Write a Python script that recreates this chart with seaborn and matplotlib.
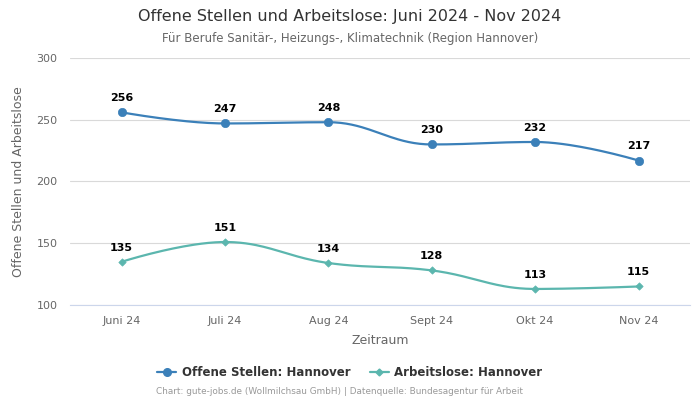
import numpy as np
import pandas as pd
import matplotlib
matplotlib.use("Agg")
import matplotlib.pyplot as plt
from matplotlib.lines import Line2D
import seaborn as sns

months = ["Juni 24", "Juli 24", "Aug 24", "Sept 24", "Okt 24", "Nov 24"]
offene_stellen = [256, 247, 248, 230, 232, 217]
arbeitslose = [135, 151, 134, 128, 113, 115]

blue = "#3b80b9"
teal = "#5bb6ae"


def spline_curve(xs, ys, steps=40):
    # highcharts-like spline with smoothing 1.5
    xs = np.asarray(xs, dtype=float)
    ys = np.asarray(ys, dtype=float)
    n = len(xs)
    left = [(xs[i], ys[i]) for i in range(n)]
    right = [(xs[i], ys[i]) for i in range(n)]
    s = 1.5
    d = s + 1
    for i in range(1, n - 1):
        lx = (s * xs[i] + xs[i - 1]) / d
        ly = (s * ys[i] + ys[i - 1]) / d
        rx = (s * xs[i] + xs[i + 1]) / d
        ry = (s * ys[i] + ys[i + 1]) / d
        corr = (ry - ly) * (rx - xs[i]) / (rx - lx) + ys[i] - ry
        ly += corr
        ry += corr
        if ly > ys[i - 1] and ly > ys[i]:
            ly = max(ys[i - 1], ys[i])
            ry = 2 * ys[i] - ly
        elif ly < ys[i - 1] and ly < ys[i]:
            ly = min(ys[i - 1], ys[i])
            ry = 2 * ys[i] - ly
        if ry > ys[i + 1] and ry > ys[i]:
            ry = max(ys[i + 1], ys[i])
            ly = 2 * ys[i] - ry
        elif ry < ys[i + 1] and ry < ys[i]:
            ry = min(ys[i + 1], ys[i])
            ly = 2 * ys[i] - ry
        left[i] = (lx, ly)
        right[i] = (rx, ry)
    t = np.linspace(0, 1, steps)[:, None]
    pts = []
    for i in range(n - 1):
        p0 = np.array([xs[i], ys[i]])
        p1 = np.array(right[i])
        p2 = np.array(left[i + 1])
        p3 = np.array([xs[i + 1], ys[i + 1]])
        seg = ((1 - t) ** 3) * p0 + 3 * ((1 - t) ** 2) * t * p1 \
            + 3 * (1 - t) * t ** 2 * p2 + t ** 3 * p3
        pts.append(seg)
    pts = np.vstack(pts)
    return pts[:, 0], pts[:, 1]


df = pd.DataFrame({
    "x": np.arange(len(months)),
    "Monat": months,
    "Offene Stellen": offene_stellen,
    "Arbeitslose": arbeitslose,
})

sns.set_style("white")
plt.rcParams["font.family"] = ["DejaVu Sans"]

fig = plt.figure(figsize=(7, 4), dpi=100)
ax = fig.add_axes([0.1, 0.2375, 0.886, 0.6175])

for col, color, marker, size in [("Offene Stellen", blue, "o", 36),
                                  ("Arbeitslose", teal, "D", 14)]:
    cx, cy = spline_curve(df["x"], df[col])
    ax.plot(cx, cy, color=color, lw=1.6, zorder=3)
    sns.scatterplot(data=df, x="x", y=col, color=color, marker=marker,
                    s=size, edgecolor=color, linewidth=0.5, ax=ax, zorder=4)
    for xi, yi in zip(df["x"], df[col]):
        ax.annotate(str(yi), (xi, yi), xytext=(0, 6.5), textcoords="offset points",
                    ha="center", va="bottom", fontsize=8, fontweight="bold",
                    color="#000000", zorder=5)

ax.set_xlim(-0.5, len(months) - 0.5)
ax.set_ylim(100, 300)
ax.set_yticks([100, 150, 200, 250, 300])
ax.set_xticks(df["x"])
ax.set_xticklabels(months)
ax.tick_params(axis="both", length=0, labelsize=8, colors="#666666")
ax.tick_params(axis="x", pad=8)
ax.tick_params(axis="y", pad=9)
ax.grid(axis="y", color="#d9d9d9", lw=0.8)
ax.set_axisbelow(True)
for side in ["top", "right", "left"]:
    ax.spines[side].set_visible(False)
ax.spines["bottom"].set_color("#ccd6eb")
ax.spines["bottom"].set_linewidth(0.8)

ax.set_xlabel("Zeitraum", fontsize=9, color="#666666", labelpad=6)
ax.set_ylabel("Offene Stellen und Arbeitslose", fontsize=9, color="#666666", labelpad=8)

fig.text(0.5, 0.958, "Offene Stellen und Arbeitslose: Juni 2024 - Nov 2024",
         ha="center", va="center", fontsize=11.5, color="#333333")
fig.text(0.5, 0.903, "Für Berufe Sanitär-, Heizungs-, Klimatechnik (Region Hannover)",
         ha="center", va="center", fontsize=8.5, color="#666666")

handles = [
    Line2D([0], [0], color=blue, marker="o", markersize=5.5, lw=1.6),
    Line2D([0], [0], color=teal, marker="D", markersize=3.5, lw=1.6),
]
fig.legend(handles, ["Offene Stellen: Hannover", "Arbeitslose: Hannover"],
           loc="center", bbox_to_anchor=(0.5, 0.068), ncol=2, frameon=False,
           prop={"size": 8.5, "weight": "bold"}, labelcolor="#333333",
           handlelength=1.6, columnspacing=1.6, handletextpad=0.5)

fig.text(0.485, 0.02, "Chart: gute-jobs.de (Wollmilchsau GmbH) | Datenquelle: Bundesagentur für Arbeit",
         ha="center", va="center", fontsize=6.4, color="#999999")

fig.savefig("out.png", dpi=100)
